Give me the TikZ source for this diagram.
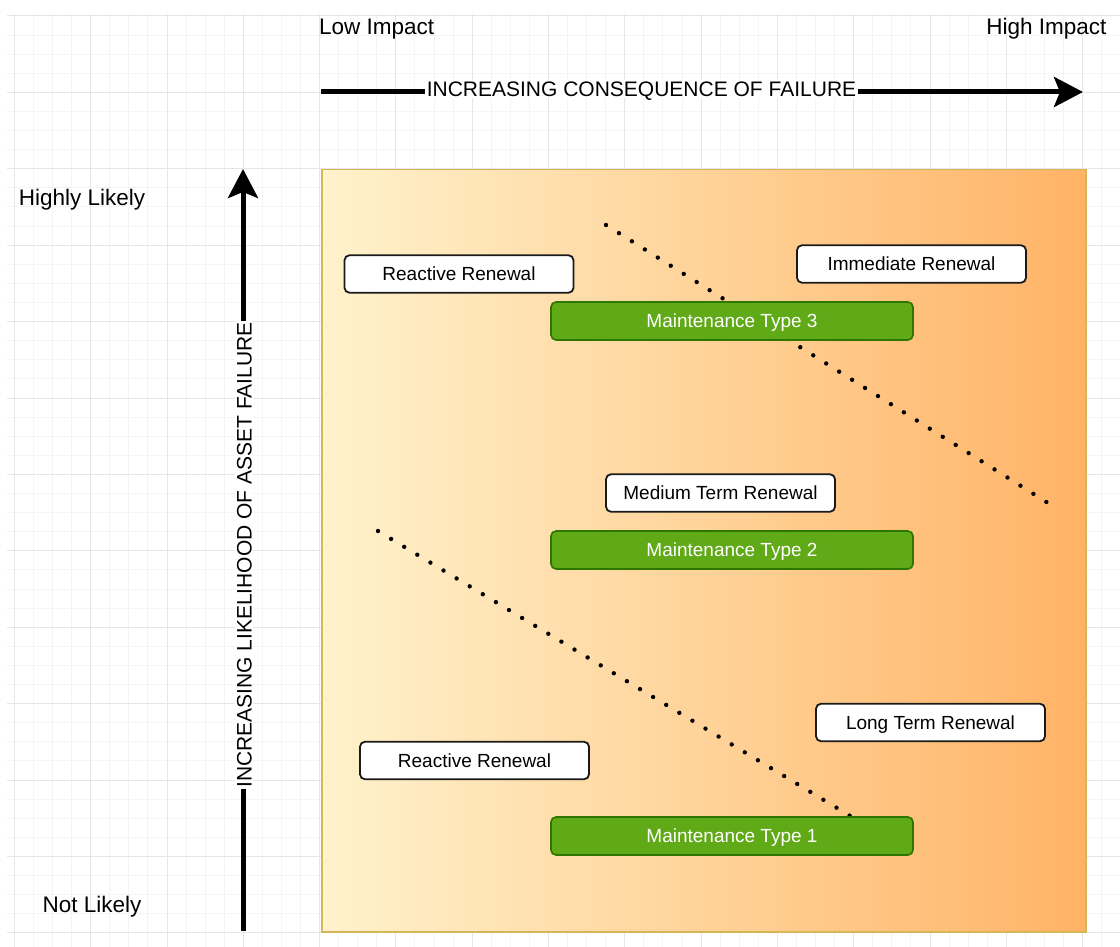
\documentclass[tikz,border=0pt]{standalone}
\usepackage{fontspec}
\setmainfont{Liberation Sans}
\usetikzlibrary{arrows.meta}
\definecolor{gridminor}{HTML}{F4F4F4}
\definecolor{gridmajor}{HTML}{E6E6E6}
\definecolor{zoneedge}{HTML}{D6B656}
\definecolor{zoneleft}{HTML}{FFF2CC}
\definecolor{zoneright}{HTML}{FFB366}
\definecolor{greenfill}{HTML}{60A917}
\definecolor{greenedge}{HTML}{2D7600}
\definecolor{boxedge}{HTML}{1A1A1A}
\tikzset{
  axisline/.style={line width=5pt, -{Stealth[length=29pt,width=30pt,inset=6pt]}},
  axislabel/.style={fill=white, inner sep=1.5pt, font=\fontsize{21}{25}\selectfont,
    text height=15pt, text depth=0pt},
  cornerlabel/.style={inner sep=0pt, font=\fontsize{22.5}{27}\selectfont,
    text height=16pt, text depth=0pt},
  renewal/.style={draw=boxedge, line width=1.8pt, fill=white, rounded corners=5pt,
    minimum width=229pt, minimum height=37.5pt, inner sep=0pt,
    font=\fontsize{19}{23}\selectfont, text height=13.6pt, text depth=0pt},
  maint/.style={draw=greenedge, line width=1.6pt, fill=greenfill, rounded corners=5pt,
    minimum width=362pt, minimum height=38pt, inner sep=0pt, text=white,
    font=\fontsize{19}{23}\selectfont, text height=13.6pt, text depth=0pt},
  boundary/.style={line width=4.4pt, line cap=round, dash pattern=on 0pt off 15.3pt}
}
\begin{document}
\begin{tikzpicture}[x=1pt,y=-1pt]
\useasboundingbox (0,0) rectangle (1120,947);
\fill[white] (0,0) rectangle (1120,947);

% background grid: minor lines, then every fourth line darker
\foreach \i in {0,...,58} {
  \draw[gridminor, line width=1pt] ({14.4+19.075*\i},14) -- ({14.4+19.075*\i},947);
}
\foreach \j in {0,...,48} {
  \draw[gridminor, line width=1pt] (7,{16+19.1*\j}) -- (1120,{16+19.1*\j});
}
\foreach \i in {0,...,14} {
  \draw[gridmajor, line width=1pt] ({14.4+76.3*\i},14) -- ({14.4+76.3*\i},947);
}
\foreach \j in {0,...,12} {
  \draw[gridmajor, line width=1pt] (7,{16+76.4*\j}) -- (1120,{16+76.4*\j});
}

% risk zone with left-to-right gradient
\node[draw=zoneedge, line width=1.5pt, left color=zoneleft, right color=zoneright,
      minimum width=764pt, minimum height=762pt, inner sep=0pt, anchor=north west]
      (zone) at (321,169) {};

% axis headings
\node[cornerlabel, anchor=west] (low) at (319,27) {Low Impact};
\node[cornerlabel] (high) at (1046.5,27) {High Impact};
\node[cornerlabel] (likely) at (82,198) {Highly Likely};
\node[cornerlabel] (unlikely) at (92,904) {Not Likely};

% consequence axis
\coordinate (cstart) at (321,92);
\coordinate (cend) at (1083,92);
\draw[axisline] (cstart) -- (cend);
\node[axislabel] (clabel) at (641.5,89) {INCREASING CONSEQUENCE OF FAILURE};

% likelihood axis
\coordinate (lstart) at (243,931);
\coordinate (lend) at (243,169);
\draw[axisline] (lstart) -- (lend);
\node[axislabel, rotate=90] (llabel) at (244,555) {INCREASING LIKELIHOOD OF ASSET FAILURE};

% zone boundaries
\coordinate (ua) at (606,225);
\coordinate (ub) at (1048,503);
\coordinate (la) at (378,531);
\coordinate (lb) at (852,817);
\draw[boundary] (ua) -- (ub);
\draw[boundary] (la) -- (lb);

% renewal strategies
\node[renewal] (react1) at (459,274) {Reactive Renewal};
\node[renewal] (immediate) at (911.5,264) {Immediate Renewal};
\node[renewal] (medium) at (720.5,493) {Medium Term Renewal};
\node[renewal] (long) at (930.5,722.5) {Long Term Renewal};
\node[renewal] (react2) at (474.5,760.5) {Reactive Renewal};

% maintenance types
\node[maint] (m3) at (732,321) {Maintenance Type 3};
\node[maint] (m2) at (732,550) {Maintenance Type 2};
\node[maint] (m1) at (732,836) {Maintenance Type 1};
\end{tikzpicture}
\end{document}
